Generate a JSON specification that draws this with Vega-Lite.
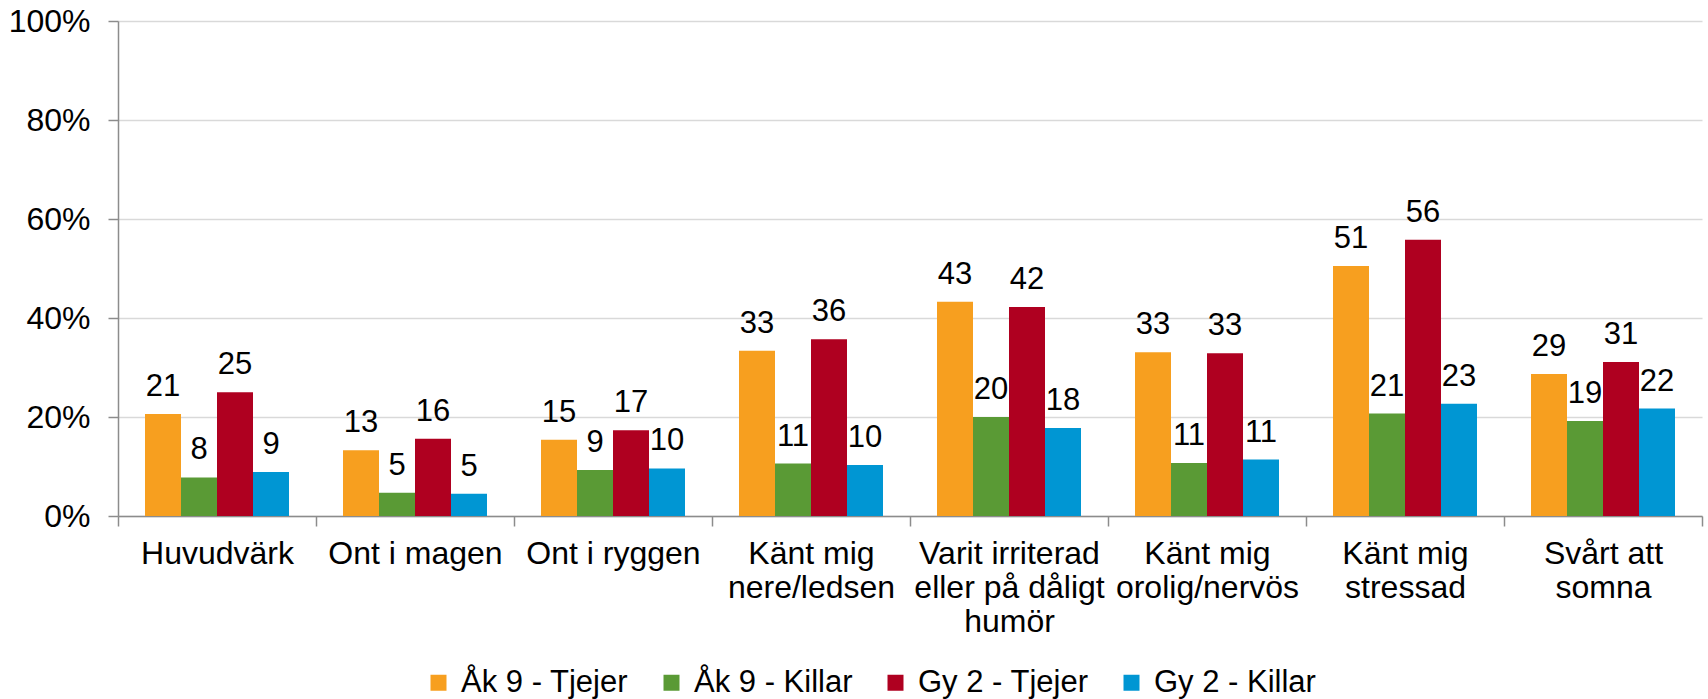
{
  "$schema": "https://vega.github.io/schema/vega-lite/v6.json",
  "width": 1584,
  "height": 495,
  "autosize": {"type": "none"},
  "padding": {"left": 118, "top": 21, "right": 6, "bottom": 183},
  "background": "white",
  "config": {"font": "Liberation Sans", "view": {"stroke": null}},
  "data": {"values": [
    {"cat": "Huvudvärk", "grp": "Åk 9 - Tjejer", "v": 20.6, "lbl": "21"},
    {"cat": "Huvudvärk", "grp": "Åk 9 - Killar", "v": 7.8, "lbl": "8"},
    {"cat": "Huvudvärk", "grp": "Gy 2 - Tjejer", "v": 25.0, "lbl": "25"},
    {"cat": "Huvudvärk", "grp": "Gy 2 - Killar", "v": 8.9, "lbl": "9"},
    {"cat": "Ont i magen", "grp": "Åk 9 - Tjejer", "v": 13.3, "lbl": "13"},
    {"cat": "Ont i magen", "grp": "Åk 9 - Killar", "v": 4.7, "lbl": "5"},
    {"cat": "Ont i magen", "grp": "Gy 2 - Tjejer", "v": 15.6, "lbl": "16"},
    {"cat": "Ont i magen", "grp": "Gy 2 - Killar", "v": 4.5, "lbl": "5"},
    {"cat": "Ont i ryggen", "grp": "Åk 9 - Tjejer", "v": 15.4, "lbl": "15"},
    {"cat": "Ont i ryggen", "grp": "Åk 9 - Killar", "v": 9.3, "lbl": "9"},
    {"cat": "Ont i ryggen", "grp": "Gy 2 - Tjejer", "v": 17.3, "lbl": "17"},
    {"cat": "Ont i ryggen", "grp": "Gy 2 - Killar", "v": 9.6, "lbl": "10"},
    {"cat": "Känt mig|nere/ledsen", "grp": "Åk 9 - Tjejer", "v": 33.4, "lbl": "33"},
    {"cat": "Känt mig|nere/ledsen", "grp": "Åk 9 - Killar", "v": 10.6, "lbl": "11"},
    {"cat": "Känt mig|nere/ledsen", "grp": "Gy 2 - Tjejer", "v": 35.7, "lbl": "36"},
    {"cat": "Känt mig|nere/ledsen", "grp": "Gy 2 - Killar", "v": 10.3, "lbl": "10"},
    {"cat": "Varit irriterad|eller på dåligt|humör", "grp": "Åk 9 - Tjejer", "v": 43.3, "lbl": "43"},
    {"cat": "Varit irriterad|eller på dåligt|humör", "grp": "Åk 9 - Killar", "v": 20.0, "lbl": "20"},
    {"cat": "Varit irriterad|eller på dåligt|humör", "grp": "Gy 2 - Tjejer", "v": 42.2, "lbl": "42"},
    {"cat": "Varit irriterad|eller på dåligt|humör", "grp": "Gy 2 - Killar", "v": 17.8, "lbl": "18"},
    {"cat": "Känt mig|orolig/nervös", "grp": "Åk 9 - Tjejer", "v": 33.1, "lbl": "33"},
    {"cat": "Känt mig|orolig/nervös", "grp": "Åk 9 - Killar", "v": 10.7, "lbl": "11"},
    {"cat": "Känt mig|orolig/nervös", "grp": "Gy 2 - Tjejer", "v": 32.9, "lbl": "33"},
    {"cat": "Känt mig|orolig/nervös", "grp": "Gy 2 - Killar", "v": 11.4, "lbl": "11"},
    {"cat": "Känt mig|stressad", "grp": "Åk 9 - Tjejer", "v": 50.5, "lbl": "51"},
    {"cat": "Känt mig|stressad", "grp": "Åk 9 - Killar", "v": 20.7, "lbl": "21"},
    {"cat": "Känt mig|stressad", "grp": "Gy 2 - Tjejer", "v": 55.8, "lbl": "56"},
    {"cat": "Känt mig|stressad", "grp": "Gy 2 - Killar", "v": 22.7, "lbl": "23"},
    {"cat": "Svårt att|somna", "grp": "Åk 9 - Tjejer", "v": 28.7, "lbl": "29"},
    {"cat": "Svårt att|somna", "grp": "Åk 9 - Killar", "v": 19.2, "lbl": "19"},
    {"cat": "Svårt att|somna", "grp": "Gy 2 - Tjejer", "v": 31.1, "lbl": "31"},
    {"cat": "Svårt att|somna", "grp": "Gy 2 - Killar", "v": 21.7, "lbl": "22"}
  ]},
  "encoding": {
    "x": {
      "field": "cat", "type": "nominal", "sort": null,
      "scale": {"paddingInner": 0, "paddingOuter": 0},
      "axis": {
        "title": null, "labelAngle": 0,
        "labelExpr": "isValid(datum.value) ? split(datum.value, '|') : ''",
        "labelFontSize": 32, "labelColor": "#000000", "labelPadding": 12, "labelLineHeight": 34,
        "labelOverlap": false, "labelBound": false, "labelLimit": 0,
        "tickBand": "extent", "tickSize": 10, "tickColor": "#8C8C8C", "tickWidth": 1.5,
        "domainColor": "#8C8C8C", "domainWidth": 1.5
      }
    },
    "xOffset": {
      "field": "grp", "type": "nominal",
      "sort": ["Åk 9 - Tjejer", "Åk 9 - Killar", "Gy 2 - Tjejer", "Gy 2 - Killar"],
      "scale": {"paddingOuter": 0.75, "paddingInner": 0}
    },
    "y": {
      "field": "v", "type": "quantitative",
      "scale": {"domain": [0, 100], "nice": false},
      "axis": {
        "title": null, "values": [0, 20, 40, 60, 80, 100], "labelExpr": "datum.value + '%'",
        "labelFontSize": 32, "labelColor": "#000000", "labelPadding": 18,
        "grid": true, "gridColor": "#D9D9D9", "gridWidth": 1.5,
        "tickSize": 10, "tickColor": "#8C8C8C", "tickWidth": 1.5,
        "domainColor": "#8C8C8C", "domainWidth": 1.5
      }
    }
  },
  "layer": [
    {
      "mark": {"type": "bar"},
      "encoding": {
        "color": {
          "field": "grp", "type": "nominal",
          "scale": {
            "domain": ["Åk 9 - Tjejer", "Åk 9 - Killar", "Gy 2 - Tjejer", "Gy 2 - Killar"],
            "range": ["#F79F1F", "#5A9A35", "#AF0020", "#0096D3"]
          },
          "legend": {
            "title": null, "orient": "none", "direction": "horizontal",
            "legendX": 305, "legendY": 646,
            "symbolType": "square", "symbolSize": 256, "symbolStrokeWidth": 0, "symbolOpacity": 1,
            "labelFontSize": 31, "labelColor": "#000000", "labelOffset": 7, "columnPadding": 27,
            "labelLimit": 0
          }
        }
      }
    },
    {
      "mark": {"type": "text", "baseline": "alphabetic", "dy": -18, "fontSize": 31, "color": "#000000"},
      "encoding": {"text": {"field": "lbl"}}
    }
  ]
}
